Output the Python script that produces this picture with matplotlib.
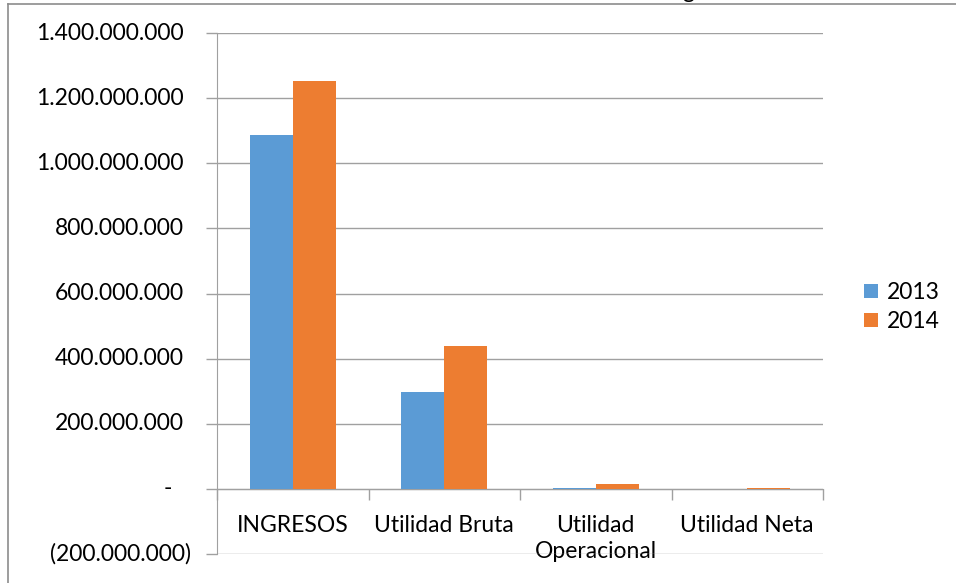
import matplotlib
matplotlib.use("Agg")
import matplotlib.pyplot as plt
from matplotlib.lines import Line2D
import numpy as np

# data
categorias = ["INGRESOS", "Utilidad Bruta", "Utilidad\nOperacional", "Utilidad Neta"]
valores_2013 = [1086000000, 298000000, 1500000, 500000]
valores_2014 = [1252000000, 440000000, 15000000, 4000000]
series = ["2013", "2014"]
colores = ["#5B9BD5", "#ED7D31"]
y_ticks = [-200000000, 0, 200000000, 400000000, 600000000, 800000000,
           1000000000, 1200000000, 1400000000]

plt.rcParams["font.family"] = ["Lato", "DejaVu Sans"]
fs = 16.5


def fmt_contable(v):
    # Excel accounting style: dots for thousands, "-" for zero, () for negatives
    if v == 0:
        return "-"
    s = f"{abs(v):,.0f}".replace(",", ".")
    return f"({s})" if v < 0 else s


fig = plt.figure(figsize=(9.56, 5.83), dpi=100)
ax = fig.add_axes([217 / 956, 1 - 554 / 583, (823 - 217) / 956, (554 - 33) / 583])

x = np.arange(len(categorias))
ancho = 0.284
ax.bar(x - ancho / 2, valores_2013, width=ancho, color=colores[0], label=series[0], zorder=3)
ax.bar(x + ancho / 2, valores_2014, width=ancho, color=colores[1], label=series[1], zorder=3)

ax.set_xlim(-0.5, len(categorias) - 0.5)
ax.set_ylim(y_ticks[0], y_ticks[-1])

# gridlines + left axis
ax.set_yticks(y_ticks)
ax.set_yticklabels([])
ax.yaxis.grid(True, color="#A0A0A0", linewidth=1, zorder=0)
ax.tick_params(axis="y", direction="out", length=8, color="#A0A0A0", width=1)
for s in ["top", "right"]:
    ax.spines[s].set_visible(False)
ax.spines["left"].set_color("#A0A0A0")

# y labels drawn by hand so the accounting alignment matches
trans = ax.get_yaxis_transform()
for v in y_ticks:
    lab = fmt_contable(v)
    if v < 0:
        xpos = -26 / 606
    elif v == 0:
        xpos = -45 / 606
    else:
        xpos = -33 / 606
    ax.text(xpos, v, lab, transform=trans, ha="right", va="center", fontsize=fs, color="#000000")

# category axis on the zero line, ticks at category boundaries
ax.spines["bottom"].set_position(("data", 0))
ax.spines["bottom"].set_color("#A0A0A0")
ax.set_xticks(np.arange(len(categorias) + 1) - 0.5)
ax.set_xticklabels([])
ax.tick_params(axis="x", which="major", direction="out", length=8, color="#A0A0A0", width=1)
ax.set_xticks(x, minor=True)
ax.set_xticklabels(categorias, minor=True, fontsize=fs, linespacing=1.25, va="top")
ax.tick_params(axis="x", which="minor", length=0, pad=19)

ax.legend(loc="center left", bbox_to_anchor=(864 / 956, 1 - 307 / 583),
          bbox_transform=fig.transFigure, frameon=False, fontsize=fs,
          borderaxespad=0, borderpad=0,
          handlelength=0.6, handleheight=0.6, handletextpad=0.4, labelspacing=0.35)

# outer chart frame (only top and left edges are in view)
fig.add_artist(Line2D([8 / 956, 1], [1 - 4 / 583, 1 - 4 / 583], transform=fig.transFigure,
                      color="#8C8C8C", linewidth=1.2))
fig.add_artist(Line2D([8 / 956, 8 / 956], [0, 1 - 4 / 583], transform=fig.transFigure,
                      color="#8C8C8C", linewidth=1.2))
# title cut off by the crop, only the tail of a "g" shows
fig.text(688 / 956, 1 + 1.5 / 583, "g", ha="center", va="baseline", fontsize=fs)

fig.savefig("out.png", dpi=100)
